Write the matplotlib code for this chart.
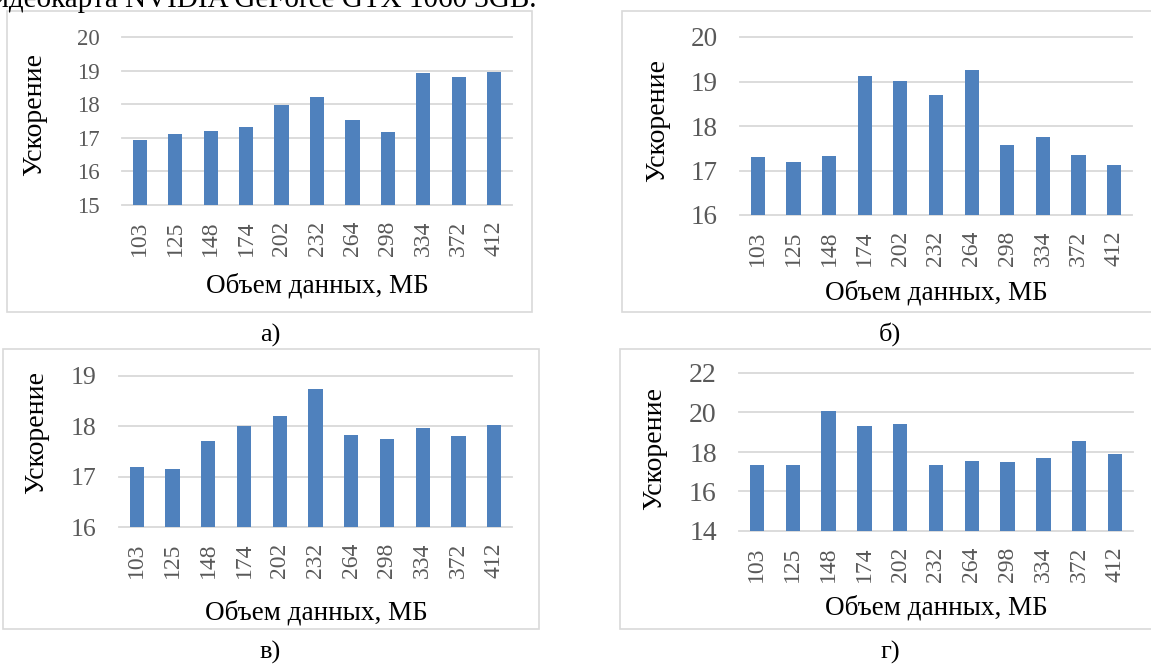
import matplotlib
matplotlib.use("Agg")
import matplotlib.pyplot as plt
from matplotlib.patches import Rectangle

plt.rcParams["font.family"] = ["Liberation Serif", "DejaVu Serif"]

# Data volume (MB) on the x axis, speed-up on the y axis
sizes = ["103", "125", "148", "174", "202", "232", "264", "298", "334", "372", "412"]

speedup_a = [16.94, 17.10, 17.20, 17.32, 17.99, 18.20, 17.53, 17.16, 18.93, 18.80, 18.96]
speedup_b = [17.31, 17.18, 17.33, 19.12, 19.02, 18.70, 19.25, 17.57, 17.76, 17.35, 17.13]
speedup_c = [17.19, 17.16, 17.70, 18.01, 18.20, 18.75, 17.82, 17.74, 17.97, 17.81, 18.02]
speedup_d = [17.35, 17.35, 20.09, 19.33, 19.41, 17.35, 17.52, 17.50, 17.71, 18.55, 17.91]

x_title = "Объем данных, МБ"
y_title = "Ускорение"
captions = ["а)", "б)", "в)", "г)"]
heading = "Видеокарта NVIDIA GeForce GTX 1060 3GB."

W, H = 1151, 664
DPI = 100
BAR = "#4F81BD"
GRID = "#D9D9D9"
TICK = "#595959"

fig = plt.figure(figsize=(W / DPI, H / DPI), dpi=DPI)
fig.patch.set_facecolor("white")


def fx(px):
    return px / W


def fy(py):
    return 1 - py / H


panels = [
    # values, y-range, y-step, axes box (l, t, r, b), frame box, label centres, caption, ytick size
    dict(vals=speedup_a, ylim=(15, 20), step=1, ax=(122, 37, 512, 205),
         frame=(7, 11, 532, 312), xl=(317, 286), yl=(35, 114), cap=(270, 335), yfs=16.5),
    dict(vals=speedup_b, ylim=(16, 20), step=1, ax=(740, 37, 1132, 215),
         frame=(622, 11, 1170, 312), xl=(936, 293), yl=(658, 120), cap=(890, 334), yfs=19.5),
    dict(vals=speedup_c, ylim=(16, 19), step=1, ax=(119, 376, 512, 527),
         frame=(3, 349, 539, 629), xl=(316, 613), yl=(37, 433), cap=(270, 652), yfs=18.5),
    dict(vals=speedup_d, ylim=(14, 22), step=2, ax=(739, 373, 1133, 531),
         frame=(620, 349, 1170, 629), xl=(936, 608), yl=(655, 448), cap=(890, 652), yfs=20),
]

for p, cap in zip(panels, captions):
    l, t, r, b = p["frame"]
    fig.patches.append(Rectangle((fx(l), fy(b)), fx(r - l), (b - t) / H,
                                 transform=fig.transFigure, facecolor="white",
                                 edgecolor=GRID, linewidth=1.2, zorder=-1))

    l, t, r, b = p["ax"]
    ax = fig.add_axes([fx(l), fy(b), fx(r - l), (b - t) / H])
    ax.set_facecolor("none")
    pos = range(len(sizes))
    ax.bar(pos, p["vals"], width=0.4, bottom=0, color=BAR, zorder=2)
    lo, hi = p["ylim"]
    ax.set_ylim(lo, hi)
    ax.set_xlim(-0.5, len(sizes) - 0.5)
    ax.set_yticks(range(lo, hi + 1, p["step"]))
    ax.set_xticks(list(pos))
    ax.set_xticklabels(sizes, rotation=90)
    ax.tick_params(axis="x", length=0, pad=11, labelsize=17, labelcolor=TICK)
    ax.tick_params(axis="y", length=0, pad=16, labelsize=p["yfs"], labelcolor=TICK)
    for s in ax.spines.values():
        s.set_visible(False)
    ax.grid(axis="y", color=GRID, linewidth=1.3, zorder=1)
    ax.grid(axis="x", visible=False)
    ax.set_axisbelow(True)
    for gl in ax.get_ygridlines():
        gl.set_clip_on(False)

    ax.set_xlabel(x_title, fontsize=19.5, color="black")
    ax.xaxis.set_label_coords(fx(p["xl"][0]), fy(p["xl"][1]), transform=fig.transFigure)
    ax.xaxis.label.set_verticalalignment("center")
    ax.set_ylabel(y_title, fontsize=20, color="black")
    ax.yaxis.set_label_coords(fx(p["yl"][0]), fy(p["yl"][1]), transform=fig.transFigure)
    ax.yaxis.label.set_verticalalignment("center")

    fig.text(fx(p["cap"][0]), fy(p["cap"][1]), cap, ha="center", va="center",
             fontsize=19, color="black")

fig.text(fx(536), fy(7), heading, ha="right", va="baseline", fontsize=21, color="black")

fig.savefig("out.png", dpi=DPI, facecolor="white")
